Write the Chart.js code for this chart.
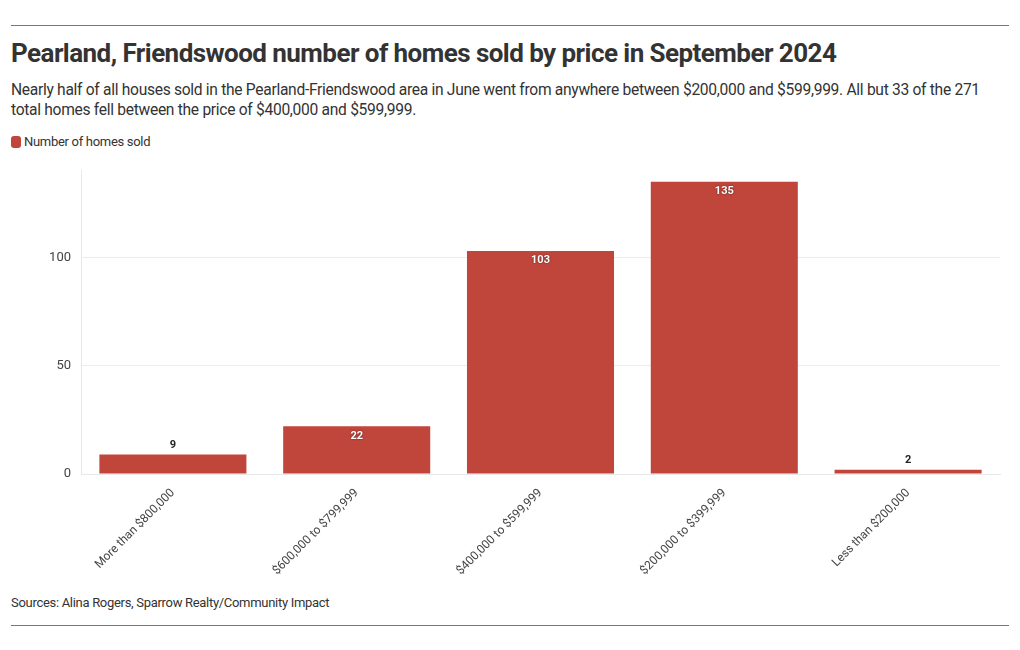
<!DOCTYPE html>
<html lang="en">
  <head>
    <meta charset="UTF-8" />
    <title>Pearland, Friendswood homes sold</title>
    <style>
      body {
        margin: 0;
        background: #fff;
        font-family: Roboto, "Noto Sans", sans-serif;
        color: #333;
      }
      .wrap {
        position: relative;
        width: 1020px;
        height: 650px;
      }
      .rule {
        position: absolute;
        left: 11px;
        width: 998px;
        border-top: 1px solid #777;
      }
      h1 {
        position: absolute;
        left: 11px;
        top: 38px;
        margin: 0;
        font-size: 26px;
        font-weight: 700;
        letter-spacing: -0.55px;
        color: #333;
        white-space: nowrap;
      }
      .sub {
        position: absolute;
        left: 11px;
        top: 80px;
        width: 985px;
        margin: 0;
        font-size: 15.6px;
        line-height: 20px;
        letter-spacing: -0.3px;
        color: #333;
      }
      .legend {
        position: absolute;
        left: 11px;
        top: 134px;
        font-size: 13px;
        letter-spacing: -0.3px;
        color: #333;
        display: flex;
        align-items: center;
      }
      .legend span {
        display: inline-block;
        width: 10px;
        height: 12px;
        border-radius: 3px;
        background: #c0463c;
        margin-right: 3px;
      }
      .src {
        position: absolute;
        left: 11px;
        top: 595px;
        font-size: 13px;
        letter-spacing: -0.3px;
        color: #333;
      }
      #chart-box {
        position: absolute;
        left: 0;
        top: 153px;
        width: 1010px;
        height: 437px;
      }
    </style>
    <script src="https://cdn.jsdelivr.net/npm/chart.js"></script>
  </head>
  <body>
    <div class="wrap">
      <div class="rule" style="top: 25px"></div>
      <h1>Pearland, Friendswood number of homes sold by price in September 2024</h1>
      <p class="sub">
        Nearly half of all houses sold in the Pearland-Friendswood area in June went from anywhere between $200,000 and $599,999. All but 33 of the 271 total homes fell between the price of $400,000 and $599,999.
      </p>
      <div class="legend"><span></span>Number of homes sold</div>
      <div id="chart-box"><canvas id="chart"></canvas></div>
      <div class="src">Sources: Alina Rogers, Sparrow Realty/Community Impact</div>
      <div class="rule" style="top: 625px"></div>
    </div>
    <script>
      const categories = [
        "More than $800,000",
        "$600,000 to $799,999",
        "$400,000 to $599,999",
        "$200,000 to $399,999",
        "Less than $200,000",
      ];
      const homesSold = [9, 22, 103, 135, 2];
      const yTicks = [0, 50, 100];

      const barColor = "#c0463c";

      // value labels: inside the bar top when it is tall enough, else above
      const valueLabels = {
        id: "valueLabels",
        afterDatasetsDraw(chart) {
          const ctx = chart.ctx;
          const meta = chart.getDatasetMeta(0);
          ctx.save();
          ctx.font = "bold 11px Roboto";
          ctx.textAlign = "center";
          meta.data.forEach((bar, i) => {
            const v = chart.data.datasets[0].data[i];
            const h = bar.base - bar.y;
            if (h > 20) {
              ctx.fillStyle = "#fff";
              ctx.shadowColor = "rgba(0,0,0,0.6)";
              ctx.shadowBlur = 2;
              ctx.textBaseline = "top";
              ctx.fillText(v, bar.x, bar.y + 4);
            } else {
              ctx.shadowColor = "transparent";
              ctx.fillStyle = "#222";
              ctx.textBaseline = "bottom";
              ctx.fillText(v, bar.x, bar.y - 4);
            }
          });
          ctx.restore();
        },
      };

      new Chart(document.getElementById("chart"), {
        type: "bar",
        data: {
          labels: categories,
          datasets: [
            {
              label: "Number of homes sold",
              data: homesSold,
              backgroundColor: barColor,
              barPercentage: 0.8,
              categoryPercentage: 1,
            },
          ],
        },
        options: {
          responsive: true,
          maintainAspectRatio: false,
          animation: false,
          layout: { padding: { top: 3, right: 10 } },
          plugins: {
            legend: { display: false },
            tooltip: { enabled: false },
          },
          scales: {
            x: {
              grid: { display: false },
              border: { color: "#e8e8e8" },
              ticks: {
                color: "#444",
                font: { family: "Roboto", size: 12 },
                minRotation: 45,
                maxRotation: 45,
                padding: 4,
              },
              afterFit(scale) {
                scale.height = 116;
              },
            },
            y: {
              min: 0,
              max: 140,
              grid: { color: "#ececec", drawTicks: false },
              border: { color: "#e8e8e8" },
              afterBuildTicks(scale) {
                scale.ticks = yTicks.map((v) => ({ value: v }));
              },
              ticks: {
                color: "#444",
                font: { family: "Roboto", size: 13 },
                padding: 10,
              },
              afterFit(scale) {
                scale.width = 81;
              },
            },
          },
        },
        plugins: [valueLabels],
      });
    </script>
  </body>
</html>
